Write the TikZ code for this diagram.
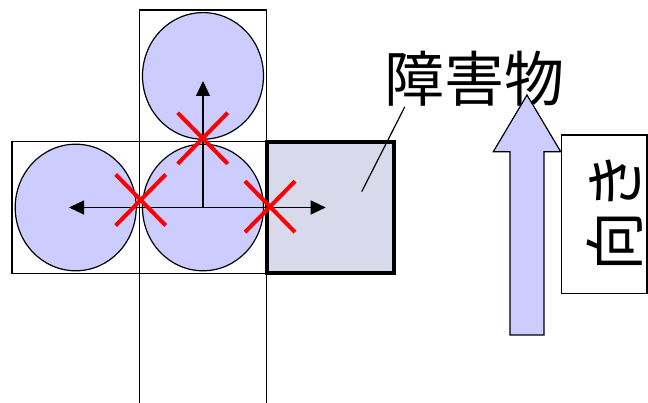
\documentclass[tikz,border=0pt]{standalone}
\usepackage{fontspec}
\newfontfamily\jfont{Noto Sans CJK JP}
\usepackage{tikz}
\usetikzlibrary{shapes.geometric, shapes.misc, positioning, arrows.meta, calc}
\definecolor{ballblue}{HTML}{CCCCFF}
\definecolor{wallgray}{HTML}{D9D9EC}

\begin{document}
\begin{tikzpicture}[
        % pixel-like units, y grows downwards
        x=1pt, y=-1pt,
        % Define styles for the cells and bodies
        cell/.style={draw, line width=1.2pt, minimum width=127.3pt, minimum height=131.6pt, inner sep=0pt, outer sep=0pt},
        wall/.style={cell, fill=wallgray, line width=4pt},
        body/.style={ellipse, draw, fill=ballblue, line width=1.2pt, minimum width=121pt, minimum height=126.6pt, inner sep=0pt},
        blocked/.style={cross out, draw=red, line width=4pt, minimum width=46pt, minimum height=47pt, inner sep=0pt},
        move/.style={-{Triangle[length=15pt, width=14pt]}, line width=1.2pt},
        jp_text/.style={font=\jfont\fontsize{60}{66}\selectfont, inner sep=0pt}
    ]
    \useasboundingbox (0,0) rectangle (648,403);

    % Grid of cells around the middle one
    \node (c_mid) [cell] at (203,207.5) {};
    \node (c_top) [cell, above=0pt of c_mid] {};
    \node (c_left) [cell, left=0pt of c_mid] {};
    \node (c_bottom) [cell, below=0pt of c_mid] {};
    \node (c_wall) [wall, right=0pt of c_mid] {};

    % Bodies in the free cells
    \node (b_top) [body] at (c_top.center) {};
    \node (b_left) [body] at (c_left.center) {};
    \node (b_mid) [body] at (c_mid.center) {};

    % Possible moves
    \coordinate (go_left) at (69,207.5);
    \coordinate (go_up) at (203,81);
    \coordinate (go_right) at (325.7,207.5);
    \draw [move] (b_mid.center) -- (go_left);
    \draw [move] (b_mid.center) -- (go_up);
    \draw [move] (b_mid.center) -- (go_right);

    % Blocked moves
    \node (x_up) [blocked] at (202.7,138.3) {};
    \node (x_left) [blocked] at (140.7,200) {};
    \node (x_right) [blocked] at (270,206.7) {};

    % Obstacle label with leader line
    \node (wall_label) [jp_text] at (474,79) {障害物};
    \coordinate (lead_end) at (361.7,191.7);
    \draw [line width=1.2pt] ($(wall_label.south west)+(21,0)$) -- (lead_end);

    % Heading arrow
    \draw [line width=1.2pt, fill=ballblue] (510,335) -- (510,151.7) -- (493.3,151.7) -- (527,95)
        -- (560.7,151.7) -- (544,151.7) -- (544,335) -- cycle;

    % Heading box with text turned on its side
    \node (dir_box) [draw, line width=1.2pt, minimum width=85.3pt, minimum height=158.3pt, inner sep=0pt] at (604.3,214.2) {};
    \node (dir_text) [jp_text, rotate=90] at (615,211.5) {向き};

\end{tikzpicture}
\end{document}
